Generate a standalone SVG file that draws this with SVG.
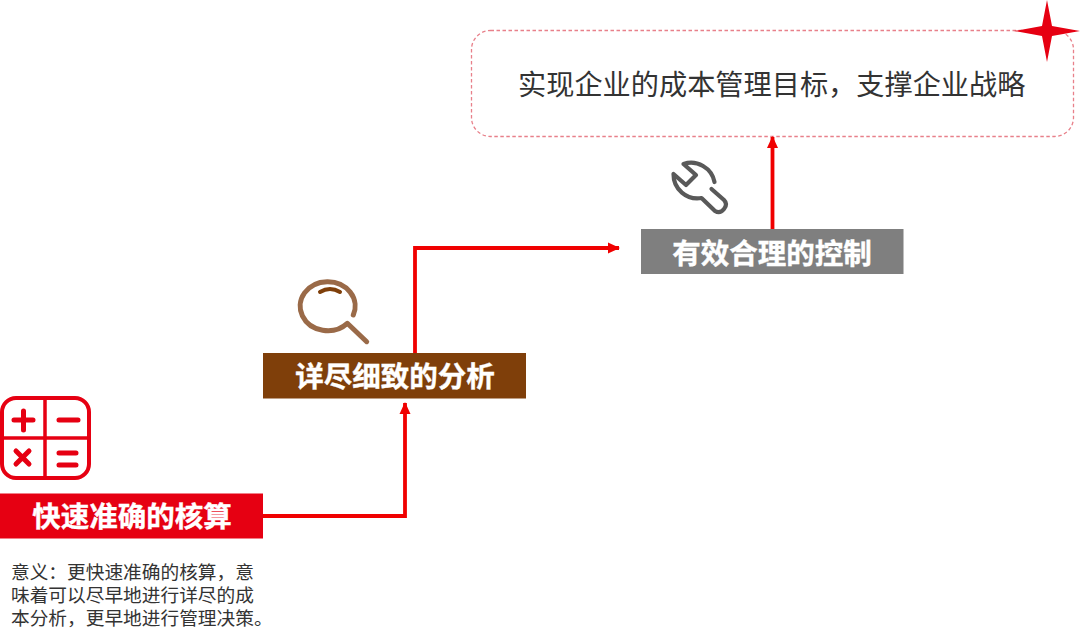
<svg xmlns="http://www.w3.org/2000/svg" width="1080" height="639" viewBox="0 0 1080 639">
<style>
.lab{font-family:"Noto Sans CJK SC","Liberation Sans",sans-serif;font-size:28.500px;font-weight:700;fill:#fff;text-anchor:middle;stroke:#fff;stroke-width:.4}
.body{font-family:"Noto Sans CJK SC","Liberation Sans",sans-serif;font-size:18.700px;fill:#333}
.conn{fill:none;stroke:#f00000;stroke-width:3.800}
</style>
<defs>
<marker id="arr" viewBox="0 0 12 12" refX="11" refY="6" markerWidth="12" markerHeight="12" markerUnits="userSpaceOnUse" orient="auto"><path d="M0 0.500L12 6L0 11.500Z" fill="#f00000"/></marker>
</defs>
<rect width="1080" height="639" fill="#fff"/>
<g id="goal">
<rect x="471.500" y="30.500" width="602" height="106" rx="19" fill="none" stroke="#e8808a" stroke-width="1.300" stroke-dasharray="3.500 2.500"/>
<text x="518" y="95" font-family="'Noto Sans CJK SC','Liberation Sans',sans-serif" font-size="28.200" fill="#333">实现企业的成本管理目标，支撑企业战略</text>
<path d="M1047 0L1052 26L1080 31L1052 36L1047 62L1042 36L1014 31L1042 26Z" fill="#e60012"/>
</g>
<g id="connectors">
<path class="conn" d="M263 516H405V403" marker-end="url(#arr)"/>
<path class="conn" d="M415 354V248H619" marker-end="url(#arr)"/>
<path class="conn" d="M772.500 229V137" marker-end="url(#arr)"/>
</g>
<g id="node-calc">
<rect x="2" y="398" width="87" height="80" rx="14" fill="none" stroke="#e60012" stroke-width="4"/>
<path d="M45 398V478M2 438H89" fill="none" stroke="#e60012" stroke-width="3.500"/>
<path d="M14 420H33M23.500 411V430M59 420H78M16 451L29 464M29 451L16 464M59 453H76M59 465H76" fill="none" stroke="#e60012" stroke-width="5" stroke-linecap="round"/>
<rect x="0" y="493.500" width="263" height="45" fill="#e60012"/>
<text class="lab" x="132" y="527">快速准确的核算</text>
<text class="body" x="11" y="579">意义：更快速准确的核算，意</text>
<text class="body" x="11" y="602">味着可以尽早地进行详尽的成</text>
<text class="body" x="11" y="625">本分析，更早地进行管理决策。</text>
</g>
<g id="node-analysis">
<path d="M353.300 315A27.500 24.500 0 1 0 347.300 323.300L366.700 341.700" fill="none" stroke="#9a6a48" stroke-width="5" stroke-linecap="round" stroke-linejoin="round"/>
<path d="M320 292Q330 286 340 292" fill="none" stroke="#7f3f0a" stroke-width="4" stroke-linecap="round"/>
<rect x="263" y="353" width="263" height="45.500" fill="#7f3f0a"/>
<text class="lab" x="395" y="387">详尽细致的分析</text>
</g>
<g id="node-control">
<path d="M714.500 182A24 24 0 0 0 683.500 164L696 175L686 185L673.500 174A24 24 0 0 0 701.500 198L715 211Q720 214 724 209Q728 204 724 200L711.500 189" fill="none" stroke="#595959" stroke-width="4.200" stroke-linejoin="round" stroke-linecap="round"/>
<rect x="641" y="229" width="262.500" height="45" fill="#7f7f7f"/>
<text class="lab" x="772" y="264">有效合理的控制</text>
</g>
</svg>
